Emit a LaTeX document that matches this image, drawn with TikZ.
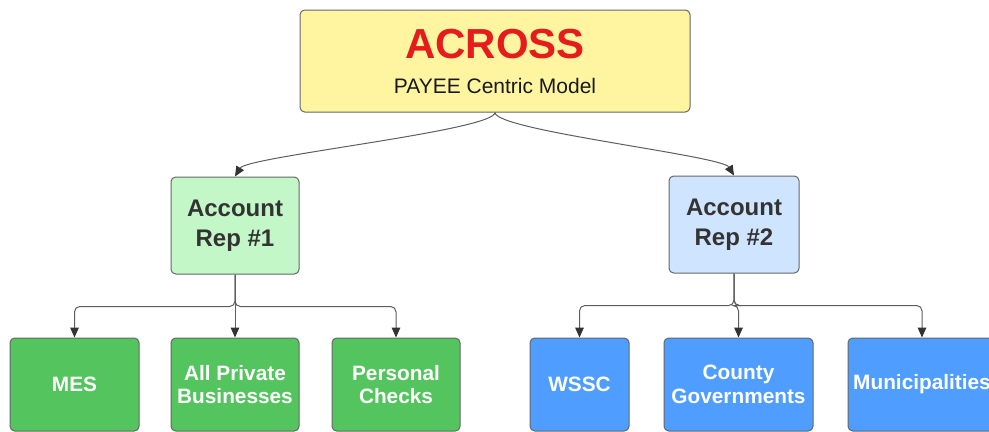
\documentclass[tikz,border=0pt]{standalone}
\usepackage{fontspec}
\setmainfont{Liberation Sans}
\usetikzlibrary{arrows.meta}
\definecolor{acrossred}{HTML}{E61C1C}
\definecolor{topfill}{HTML}{FFF5A0}
\definecolor{repgreen}{HTML}{C3F7C8}
\definecolor{repblue}{HTML}{CFE4FF}
\definecolor{leafgreen}{HTML}{54C45E}
\definecolor{leafblue}{HTML}{4F9DFF}
\definecolor{boxline}{HTML}{666666}
\definecolor{connline}{HTML}{5E5E5E}
\definecolor{reptext}{HTML}{333333}

\begin{document}
\begin{tikzpicture}[x=0.75pt, y=-0.75pt,
		box/.style={draw=boxline, line width=0.75pt, rounded corners=3.5pt, inner sep=0pt, align=center},
		topbox/.style={box, fill=topfill, minimum width=292.5pt, minimum height=76.5pt, font=\fontsize{15.75}{26.25}\selectfont, text=black!90},
		repbox/.style={box, minimum height=72.75pt, font=\fontsize{18}{22.5}\selectfont\bfseries, text=reptext},
		leafbox/.style={box, minimum height=69.75pt, font=\fontsize{15.6}{17.5}\selectfont\bfseries, text=white},
		conn/.style={draw=connline, line width=0.75pt, rounded corners=4pt, -{Triangle[length=7.5pt,width=6.5pt,color=reptext]}}]
		%%%%% START %%%%%
		
		\useasboundingbox (0,0) rectangle (989,432);
		
		% top
		\node[topbox] (payee) at (495,61) {{\fontsize{31.5}{36}\selectfont\bfseries\color{acrossred}ACROSS}\\{PAYEE Centric Model}};
		
		% account reps
		\node[repbox, fill=repgreen, minimum width=96pt] (rep1) at (235,225.5) {Account\\Rep \#1};
		\node[repbox, fill=repblue, minimum width=97.5pt] (rep2) at (734,224.5) {Account\\Rep \#2};
		
		% payees of rep 1
		\node[leafbox, fill=leafgreen, minimum width=96.75pt] (mes) at (74.5,384.5) {MES};
		\node[leafbox, fill=leafgreen, minimum width=96pt] (priv) at (235,384.5) {All Private\\Businesses};
		\node[leafbox, fill=leafgreen, minimum width=96pt] (pers) at (396,384.5) {Personal\\Checks};
		
		% payees of rep 2
		\node[leafbox, fill=leafblue, minimum width=74.25pt] (wssc) at (579.5,384.5) {WSSC};
		\node[leafbox, fill=leafblue, minimum width=111.75pt] (county) at (738.5,384.5) {County\\Governments};
		\node[leafbox, fill=leafblue, minimum width=111pt] (muni) at (922,384.5) {Municipalities};
		
		\draw[conn] (payee.south) .. controls +(0,18) and +(12,-20) .. (rep1.north);
		\draw[conn] (payee.south) .. controls +(0,18) and +(-12,-20) .. (rep2.north);
		
		\draw[conn] (rep1.south) -- ++(0,32) -| (mes.north);
		\draw[conn] (rep1.south) -- (priv.north);
		\draw[conn] (rep1.south) -- ++(0,32) -| (pers.north);
		
		\draw[conn] (rep2.south) -- ++(0,32) -| (wssc.north);
		\draw[conn] (rep2.south) -- ++(0,32) -| (county.north);
		\draw[conn] (rep2.south) -- ++(0,32) -| (muni.north);
		
		%%%%% END %%%%%
\end{tikzpicture}
\end{document}
